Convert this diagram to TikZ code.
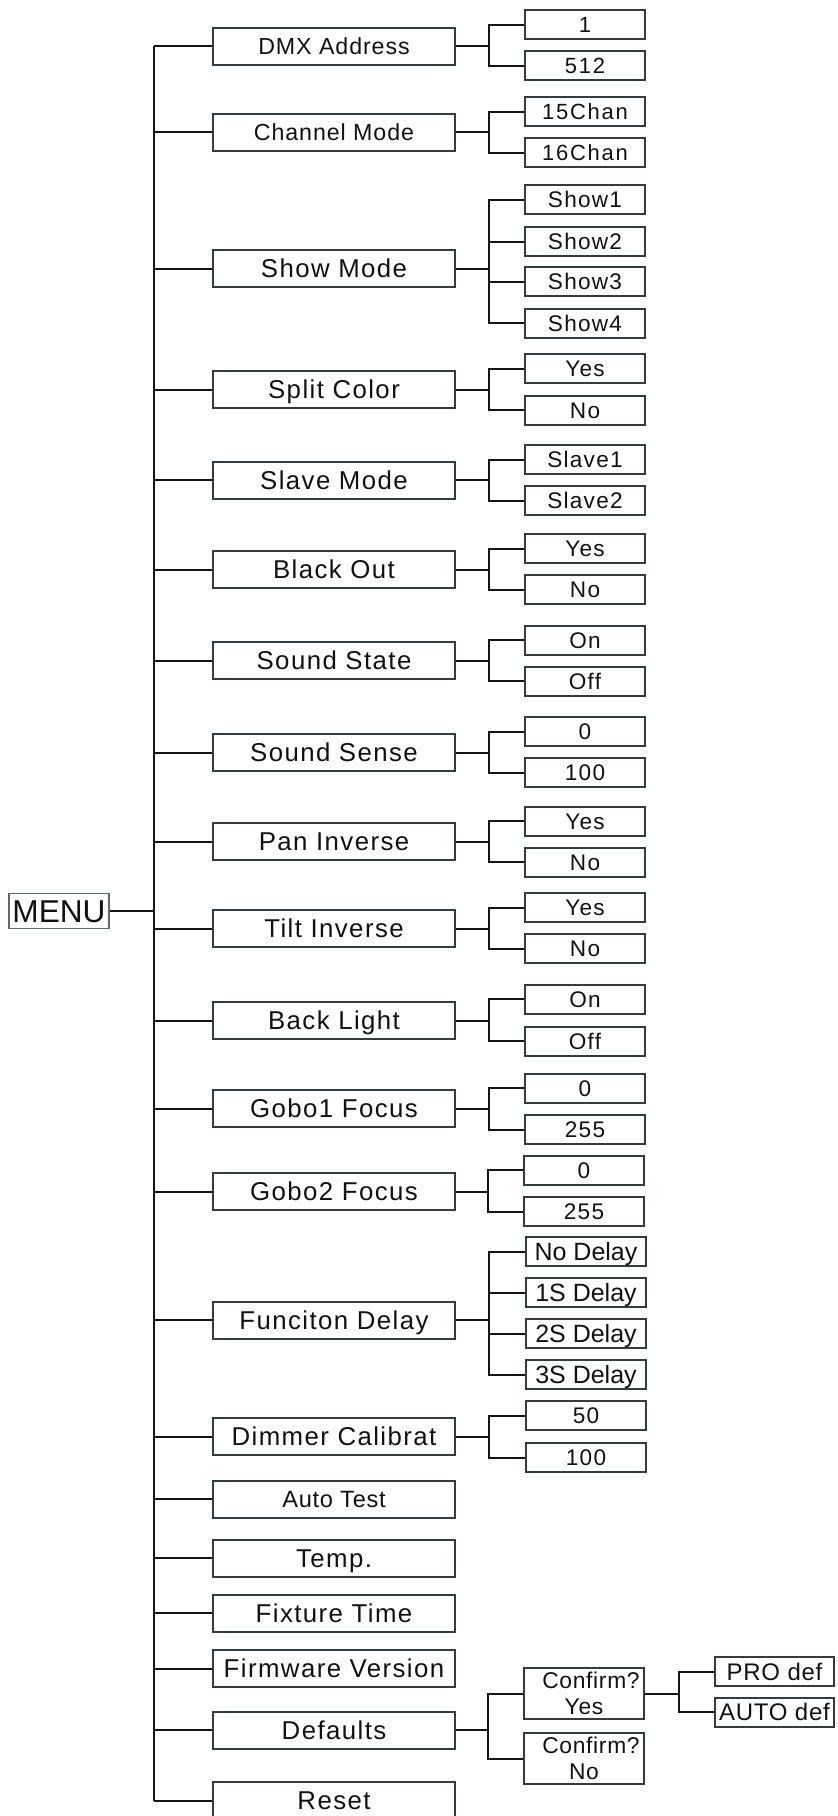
\documentclass[tikz,border=0pt]{standalone}
\usepackage{fontspec}
\setmainfont{Liberation Sans}
\newfontfamily\fone{Liberation Sans}[LetterSpace=5.5]
\newfontfamily\fsmall{Liberation Sans}[LetterSpace=4]
\newfontfamily\fwide{Liberation Sans}[LetterSpace=8]
\newfontfamily\fmild{Liberation Sans}[LetterSpace=3]
\newfontfamily\fplain{Liberation Sans}
\definecolor{boxc}{HTML}{333C40}
\definecolor{linec}{HTML}{141414}
\definecolor{txt}{HTML}{111111}
\definecolor{menuc}{HTML}{5F6A6E}
\tikzset{
 lone/.style={draw=boxc, line width=1pt, minimum width=121pt, minimum height=18.5pt, inner sep=0pt, text=txt, text height=9.2pt, text depth=0pt, font=\fone\fontsize{12.9pt}{14pt}\selectfont},
 lsmall/.style={lone, font=\fsmall\fontsize{11.6pt}{13pt}\selectfont, text height=8.3pt},
 ltwo/.style={draw=boxc, line width=1pt, minimum width=60pt, minimum height=14.5pt, inner sep=0pt, text=txt, text height=8pt, text depth=0pt, font=\fone\fontsize{11.3pt}{13pt}\selectfont},
 ltop/.style={ltwo, font=\fwide\fontsize{11pt}{12pt}\selectfont, text height=7.9pt},
 ldelay/.style={ltwo, font=\fplain\fontsize{12.5pt}{14pt}\selectfont, text height=9pt},
 lconf/.style={draw=boxc, line width=1pt, minimum width=60pt, minimum height=25.5pt, inner sep=0pt, align=center, text=txt, font=\fmild\fontsize{11.4pt}{13pt}\selectfont},
 ldef/.style={ltwo, minimum width=59.5pt, font=\fmild\fontsize{12pt}{13pt}\selectfont, text height=8.6pt},
 menubox/.style={draw=menuc, line width=0.6pt, minimum width=50pt, minimum height=17.5pt, inner sep=0pt, text=txt, font=\fplain\fontsize{15.8pt}{18pt}\selectfont, text height=11.3pt, text depth=0pt},
 conn/.style={draw=linec, line width=1pt},
}
% parent, branch coordinate, first child, last child
\newcommand\fan[4]{%
 \draw[conn] (#1.east) -- (#1.east -| #2);
 \draw[conn] (#3.west) -- (#3.west -| #2) -- (#4.west -| #2) -- (#4.west);
}
\newcommand\midbranch[2]{\draw[conn] (#1.west -| #2) -- (#1.west);}
\begin{document}
\begin{tikzpicture}[x=0.5pt, y=-0.5pt]
\useasboundingbox (0,0) rectangle (837,1816);
\clip (0,0) rectangle (837,1816);
\coordinate (tk) at (154,0);
\coordinate (br) at (489,0);
\coordinate (brd) at (488,0);
\coordinate (brp) at (679,0);

\node[menubox] (menu) at (59,911) {MENU};

% level 1
\node[lsmall] (dmx) at (334,46) {DMX Address};
\node[lsmall] (chan) at (334,132) {Channel Mode};
\node[lone] (show) at (334,268.5) {Show Mode};
\node[lone] (split) at (334,389.5) {Split Color};
\node[lone] (slave) at (334,480) {Slave Mode};
\node[lone] (black) at (334,569.5) {Black Out};
\node[lone] (sstate) at (334,660.5) {Sound State};
\node[lone] (ssense) at (334,752.5) {Sound Sense};
\node[lone] (pan) at (334,841.5) {Pan Inverse};
\node[lone] (tilt) at (334,928.5) {Tilt Inverse};
\node[lone] (back) at (334,1020.5) {Back Light};
\node[lone] (gobo1) at (334,1108.5) {Gobo1 Focus};
\node[lone] (gobo2) at (334,1191.5) {Gobo2 Focus};
\node[lone] (delay) at (334,1320) {Funciton Delay};
\node[lone] (dimmer) at (334,1436.5) {Dimmer Calibrat};
\node[lsmall, font=\fmild\fontsize{11.8pt}{13pt}\selectfont] (autot) at (334,1499) {Auto Test};
\node[lone] (temp) at (334,1558) {Temp.};
\node[lone] (fixture) at (334,1613) {Fixture Time};
\node[lone] (firm) at (334,1668.5) {Firmware Version};
\node[lone] (defaults) at (334,1730) {Defaults};
\node[lone] (reset) at (334,1800.5) {Reset};

% level 2
\node[ltop] (a1) at (585,24.5) {1};
\node[ltop] (a2) at (585,65.5) {512};
\node[ltop] (b1) at (585,111.5) {15Chan};
\node[ltop] (b2) at (585,152.5) {16Chan};
\node[ltwo] (c1) at (585,199.5) {Show1};
\node[ltwo] (c2) at (585,241.5) {Show2};
\node[ltwo] (c3) at (585,281.5) {Show3};
\node[ltwo] (c4) at (585,323) {Show4};
\node[ltwo] (d1) at (585,368.5) {Yes};
\node[ltwo] (d2) at (585,410) {No};
\node[ltwo] (e1) at (585,459.5) {Slave1};
\node[ltwo] (e2) at (585,500.5) {Slave2};
\node[ltwo] (f1) at (585,548.5) {Yes};
\node[ltwo] (f2) at (585,589.5) {No};
\node[ltwo] (g1) at (585,640) {On};
\node[ltwo] (g2) at (585,681) {Off};
\node[ltwo] (h1) at (585,731.5) {0};
\node[ltwo] (h2) at (585,772.5) {100};
\node[ltwo] (i1) at (585,821) {Yes};
\node[ltwo] (i2) at (585,862) {No};
\node[ltwo] (j1) at (585,907.5) {Yes};
\node[ltwo] (j2) at (585,948.5) {No};
\node[ltwo] (k1) at (585,999) {On};
\node[ltwo] (k2) at (585,1041) {Off};
\node[ltwo] (l1) at (585,1088) {0};
\node[ltwo] (l2) at (585,1129.5) {255};
\node[ltwo] (m1) at (584,1170) {0};
\node[ltwo] (m2) at (584,1211.5) {255};
\node[ldelay] (n1) at (586,1251.5) {No Delay};
\node[ldelay] (n2) at (586,1292.5) {1S Delay};
\node[ldelay] (n3) at (586,1333.5) {2S Delay};
\node[ldelay] (n4) at (586,1374.5) {3S Delay};
\node[ltwo] (o1) at (586,1415.5) {50};
\node[ltwo] (o2) at (586,1457.5) {100};
\node[lconf] (p1) at (584,1693.5) {\hspace*{7pt}Confirm?\\Yes};
\node[lconf] (p2) at (584,1758.5) {\hspace*{7pt}Confirm?\\No};
\node[ldef] (q1) at (774.5,1671.5) {PRO def};
\node[ldef] (q2) at (774.5,1712) {AUTO def};

% trunk
\draw[conn] (menu.east) -- (menu.east -| tk);
\draw[conn] (dmx.west -| tk) -- (reset.west -| tk);
\foreach \n in {dmx,chan,show,split,slave,black,sstate,ssense,pan,tilt,back,gobo1,gobo2,delay,dimmer,autot,temp,fixture,firm,defaults,reset}
  {\draw[conn] (\n.west -| tk) -- (\n.west);}

% branches
\fan{dmx}{br}{a1}{a2}
\fan{chan}{br}{b1}{b2}
\fan{show}{br}{c1}{c4}
\midbranch{c2}{br}
\midbranch{c3}{br}
\fan{split}{br}{d1}{d2}
\fan{slave}{br}{e1}{e2}
\fan{black}{br}{f1}{f2}
\fan{sstate}{br}{g1}{g2}
\fan{ssense}{br}{h1}{h2}
\fan{pan}{br}{i1}{i2}
\fan{tilt}{br}{j1}{j2}
\fan{back}{br}{k1}{k2}
\fan{gobo1}{br}{l1}{l2}
\fan{gobo2}{brd}{m1}{m2}
\fan{delay}{br}{n1}{n4}
\midbranch{n2}{br}
\midbranch{n3}{br}
\fan{dimmer}{br}{o1}{o2}
\fan{defaults}{brd}{p1}{p2}
\fan{p1}{brp}{q1}{q2}
\end{tikzpicture}
\end{document}
